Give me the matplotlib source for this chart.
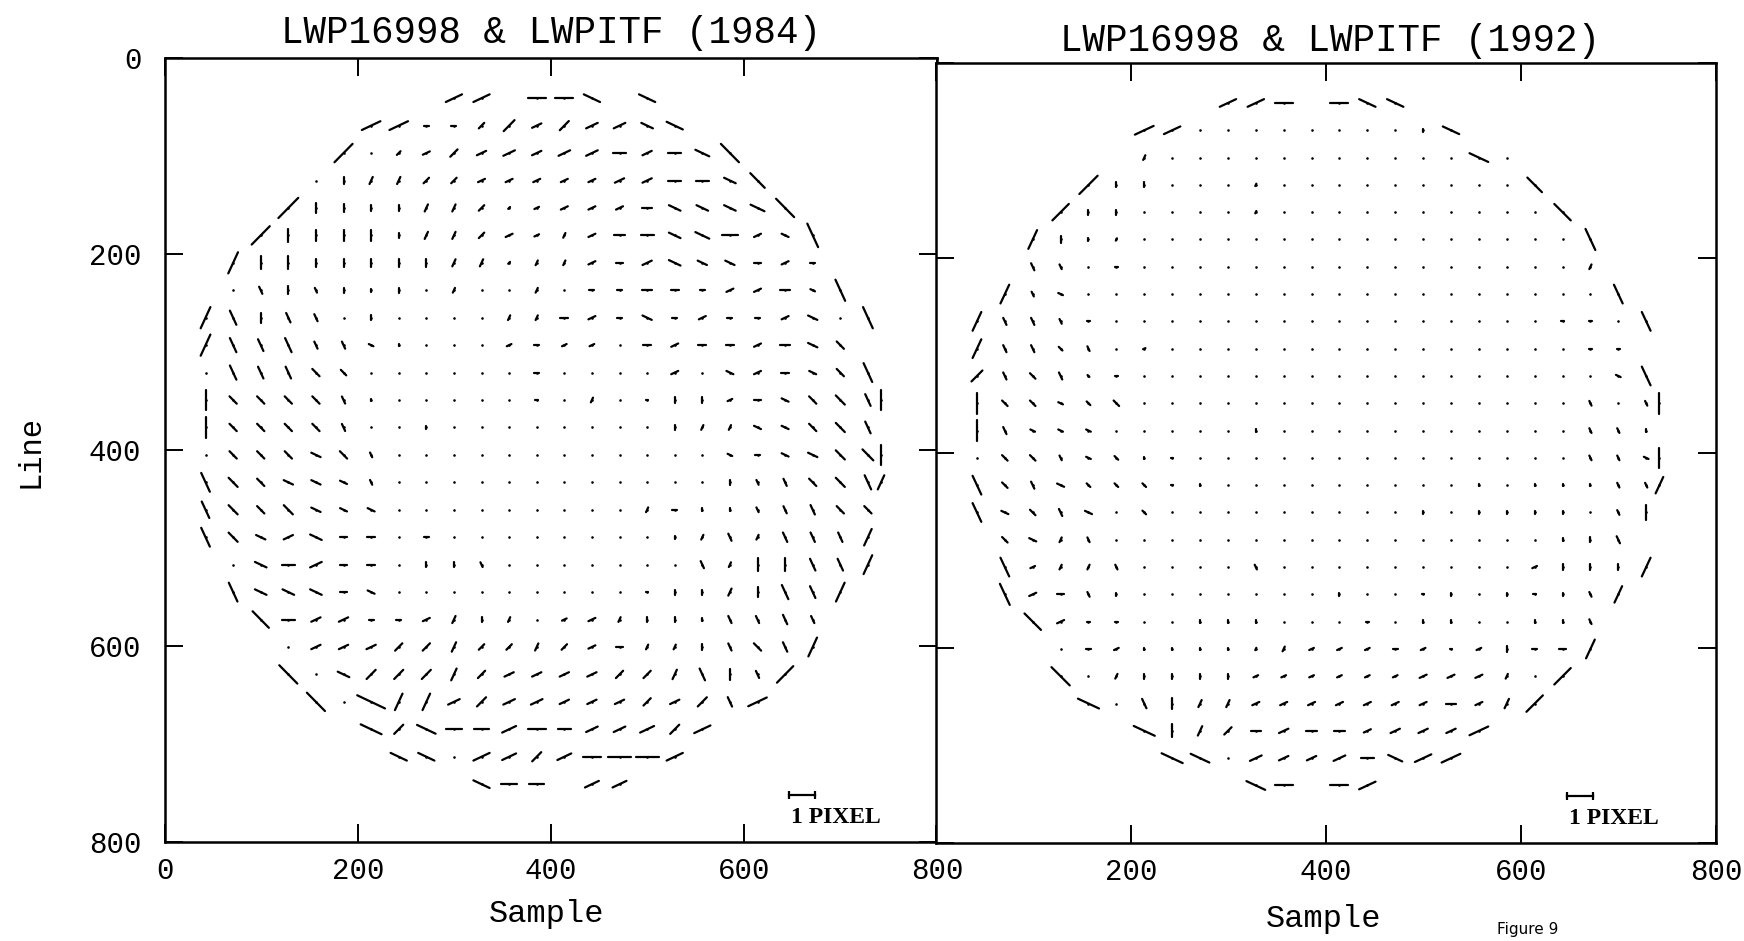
import numpy as np
import matplotlib.pyplot as plt
from matplotlib.collections import LineCollection

plt.rcParams['font.family'] = ['Liberation Mono', 'DejaVu Sans Mono']

# measurement grid (image sample / line); last column holds the rim marks on the right
sample_grid = [42.0, 70.6, 99.2, 127.8, 156.4, 185.0, 213.6, 242.2, 270.8, 299.4,
               328.0, 356.6, 385.2, 413.8, 442.4, 471.0, 499.6, 528.2, 556.8, 585.4,
               614.0, 642.6, 671.2, 699.8, 728.4, 742.0]
line_grid = [41, 69, 97, 125, 153, 181, 209, 237, 265, 293, 321, 349, 377,
             405, 433, 461, 489, 517, 545, 573, 601, 629, 657, 685, 713, 741]

# shift vectors, one string per grid row starting at column first_col_*[row]
# token = orientation glyph + length in tenths of a pixel; "." = no shift, "_" = no point
orient_deg = {"-": 0, "r": 25, "/": 45, "y": 65, "|": 90, "Y": 115, "\\": 135, "f": 155}
pixel_len = 26.5   # plot units for a 1 pixel shift (scale bar)

first_col_1984 = [9, 6, 5, 4, 3, 2, 1, 1, 0, 0, 0, 0, 0, 0, 0, 0, 0, 1, 1, 2, 3, 3, 4, 6, 7, 10]
rows_1984 = [
    "r7 r7 _ -7 -7 f7 _ f7",
    "r8 r8 -2 -2 /3 /6 r4 /5 r5 r5 f5 f7",
    r"/10 . /2 r3 /4 r4 r5 r4 r5 r5 -5 r4 -5 f6 \10",
    r". |3 y3 y3 /3 /3 r3 r3 r3 r3 r3 r4 r4 -5 -5 f5 \8",
    r"/11 |4 |3 |2 |2 y3 y3 /3 /1 r2 r3 r3 r3 -4 f5 f5 f5 f6 \10",
    "/10 |5 |4 |4 |4 |2 y3 y3 /3 r3 r2 y2 r3 -4 -5 f5 f6 -6 r3 f3 Y10",
    "y9 |5 |5 |3 |3 |3 |3 |3 y3 y3 /1 y2 y2 r3 -3 r4 f5 f4 f4 -3 r3 -2",
    ". Y3 |3 Y2 |2 |1 |2 . y2 . . y2 . -2 -2 -4 -3 -2 r3 r3 -4 f2 Y9",
    "y9 Y6 |4 Y4 Y3 . |2 . . . . y2 y2 -3 r3 -2 f4 -2 r3 -2 -2 r3 f4 . Y9",
    r"y9 Y6 Y5 Y6 Y3 Y3 f2 |1 . . . r2 -2 r2 r2 . -3 r3 -3 -3 r3 -4 f4 \4",
    r". Y6 Y5 Y5 \4 \3 . . . . . . -2 . . . . r3 . f3 r3 -3 f3 \4 Y8",
    r"|8 \4 \4 \4 \4 Y3 |1 . . . . . -1 . y2 . -1 |2 |2 r2 -3 f3 \4 \5 Y5 |8",
    r"|8 \4 \4 \4 \4 Y3 . . |1 . . . . . . . . |2 y2 y2 f3 f3 \4 \5 Y5",
    r". \4 \4 \4 f4 \4 Y2 . . . . . . . . . . . . f2 -2 f3 f4 \5 \6 |8",
    r"Y8 \5 \4 f4 f4 f3 Y2 . . . . . . . . . . . . |2 Y2 Y3 \4 \5 Y6 y6",
    r"Y7 \5 \4 \5 f4 f3 f3 . . . . . . . . . y2 -2 |1 |1 Y2 Y3 Y4 \4 \4",
    r"Y8 \5 f4 r4 f5 -3 -3 . -2 . . . . . . . . |1 y2 Y3 y2 Y4 Y4 Y4 y7",
    ". f5 -5 r5 -3 -3 . |2 |2 Y2 . . . . . . . Y3 y2 |5 |5 Y5 Y5 y8",
    "Y8 f5 f5 f5 -3 f3 . . . . . . . . . -1 |2 |2 y3 |4 Y6 Y5 y8",
    r"\9 -5 r4 r4 -2 -2 r3 y3 |2 y2 . r2 r3 y2 |2 |2 |1 Y3 Y3 Y4 Y3",
    r". r4 r4 r4 /4 /4 y4 /3 /3 y3 /3 r3 -3 y2 y2 |2 Y3 \4 Y4 y8",
    r"\10 . f5 /5 /5 /5 y5 /4 r4 r4 r4 r4 /4 /4 y4 Y5 |4 Y3 /9",
    r"\10 . f12 y7 y7 r5 /5 r5 r5 r4 r4 r4 /4 r4 /5 Y4 r8",
    "f9 /5 f8 -6 -6 r6 -7 -5 r5 r5 r6 /5 r7",
    "f7 f7 . r7 r6 /5 r6 -7 -9 -9 r7",
    "f7 -6 -6 _ r6 r6",
]

first_col_1992 = [9, 6, 6, 4, 3, 2, 2, 1, 0, 0, 0, 0, 0, 0, 0, 0, 1, 1, 1, 2, 3, 3, 4, 6, 7, 10]
rows_1992 = [
    "r7 r7 -7 _ -7 f7 f7",
    "r8 r7 . . . . . . . . |1 f7",
    "y2 . . . . . . . . . . . f8 .",
    r"/10 |2 |2 . . . y1 . . . . . . . . . \8",
    r"/9 |2 |2 . . . . y1 . . . . . . . . . . \9",
    "y8 |3 |1 y1 . . . . . . . . . . . . . . . . Y9",
    "Y3 Y2 . -1 . . . . . . . . . . . . . . . . y2",
    "y8 Y2 f2 . . . . . . . . . . . . . . . . . . . Y8",
    "y8 Y3 Y3 Y2 -1 . . . . . . . . . . . . . . . . -1 -1 . Y8",
    r"y8 Y3 Y3 \2 Y2 . r1 . . . . . . . . . . . . . . . -1 -1",
    r"/6 Y3 \3 Y3 \1 -1 . . . . . . . . . . . . . . . . . f2 Y8",
    r"|8 \3 \3 f2 \2 \3 . . . . . . . . . . . . . . . . Y2 . Y2 |8",
    "|8 Y3 f2 f2 f2 . . . . . |1 . . . . . . . . . . . Y2 Y2 |1",
    r". \3 \3 Y2 f2 \2 |1 -1 . . . . . . . . . . . . . . Y2 Y2 f2 |8",
    r"Y8 \3 Y3 f3 \2 \2 \2 -1 |1 . . . . . . . . . |1 . |1 |1 |1 Y2 Y2 y7",
    r"Y8 f3 \3 Y3 f3 . \2 . . . . . . . . . |1 . |1 |1 |1 |1 . Y2 |6",
    r"\3 f3 y2 Y2 . . . . . . . . . . . . . . . . |1 |2 Y3",
    "Y8 r2 y2 y2 Y2 . . . . Y2 . . . . . . . . . r2 |2 |2 |2 y8",
    "Y9 r3 -3 Y2 |1 . . . . . . . |1 . . -1 |1 . |1 -1 |1 Y2 y7",
    r"\9 r3 -1 -1 . . |1 |1 |1 . . . -1 . |1 |1 . . |1 |1 Y2",
    ". -2 r2 |1 |1 |1 |1 y1 y2 r2 r2 r2 -2 r2 -1 r2 |2 -2 -3 y8",
    r"\10 . y2 |2 |2 |2 |2 r2 r2 r2 r2 r2 r2 r3 r3 r3 y2 . /9",
    "f9 . Y4 |4 y3 y3 r3 r3 r3 r3 r3 r3 r3 -4 r3 y4 /9",
    "f9 |5 y4 /4 -4 r4 -4 -4 r3 r4 r4 r4 r8",
    "f9 f8 . r5 r4 r4 r5 -5 f6 r7 r8",
    "f8 -7 _ -7 r7",
]

titles = ["LWP16998 & LWPITF (1984)", "LWP16998 & LWPITF (1992)"]
ticks = [0, 200, 400, 600, 800]


def draw_field(ax, first_cols, rows):
    segs, px, py = [], [], []
    for r, (c0, row) in enumerate(zip(first_cols, rows)):
        y = line_grid[r]
        for j, tok in enumerate(row.split()):
            if tok == "_":
                continue
            x = sample_grid[c0 + j]
            px.append(x)
            py.append(y)
            if tok == ".":
                continue
            a = np.deg2rad(orient_deg[tok[0]])
            half = int(tok[1:]) / 10 * pixel_len / 2
            dx, dy = half * np.cos(a), -half * np.sin(a)
            segs.append([(x - dx, y - dy), (x + dx, y + dy)])
    ax.add_collection(LineCollection(segs, colors='k', linewidths=1.6, capstyle='round'))
    ax.scatter(px, py, s=3.5, c='k', linewidths=0)
    # 1 pixel scale bar
    ax.plot([647, 647 + pixel_len], [752, 752], color='k', lw=1.6)
    ax.plot([647, 647 + pixel_len], [752, 752], ls='none', marker='|', ms=6, mew=1.6, color='k')
    ax.text(649, 775, '1 PIXEL', family='Liberation Serif', weight='bold', fontsize=17,
            ha='left', va='center')


fig = plt.figure(figsize=(17.44, 9.41), dpi=100)
ax1 = fig.add_axes([165 / 1744, 1 - 842 / 941, 772 / 1744, 784 / 941])
ax2 = fig.add_axes([936 / 1744, 1 - 843 / 941, 780 / 1744, 780 / 941])

for ax, fc, rows in ((ax1, first_col_1984, rows_1984), (ax2, first_col_1992, rows_1992)):
    draw_field(ax, fc, rows)
    ax.set_xlim(0, 800)
    ax.set_ylim(800, 0)
    ax.set_xticks(ticks)
    ax.set_yticks(ticks)
    ax.tick_params(direction='in', length=13, width=1.4, top=True, right=True, labelsize=21)
    ax.tick_params(axis='x', pad=11)
    for s in ax.spines.values():
        s.set_linewidth(1.8)

ax1.tick_params(axis='y', pad=17)
ax2.tick_params(axis='y', labelleft=False)
ax2.set_xticks(ticks, ['', '200', '400', '600', '800'])

fig.text(551 / 1744, 1 - 43 / 941, titles[0], ha='center', va='baseline', fontsize=27)
fig.text(1330 / 1744, 1 - 51 / 941, titles[1], ha='center', va='baseline', fontsize=27)
fig.text(30 / 1744, 1 - 452 / 941, 'Line', rotation=90, ha='center', va='center', fontsize=22)
fig.text(547 / 1744, 1 - 914 / 941, 'Sample', ha='center', va='center', fontsize=23)
fig.text(1324 / 1744, 1 - 919 / 941, 'Sample', ha='center', va='center', fontsize=23)
fig.text(1497 / 1744, 1 - 922 / 941, 'Figure 9', family='DejaVu Sans', ha='left', va='top',
         fontsize=11)

fig.savefig('out.png', dpi=100)
